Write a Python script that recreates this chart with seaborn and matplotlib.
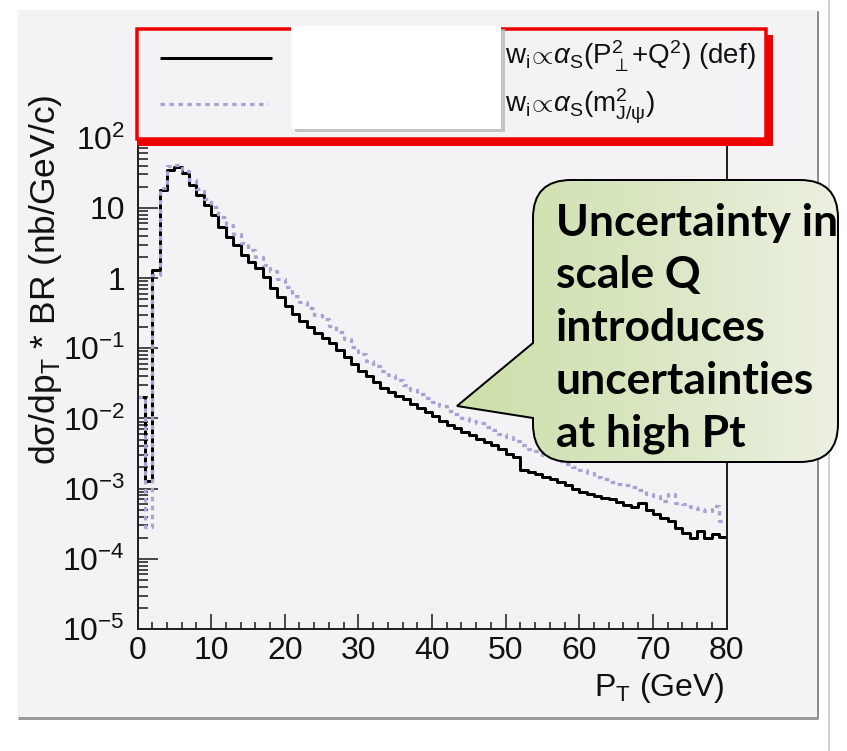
import numpy as np
import pandas as pd
import matplotlib
matplotlib.use("Agg")
import matplotlib.pyplot as plt
import seaborn as sns
from matplotlib.patches import Rectangle, PathPatch
from matplotlib.path import Path
from matplotlib.ticker import FixedLocator, LogLocator, MultipleLocator, NullFormatter
from matplotlib.colors import LinearSegmentedColormap

# ---------------- data ----------------
pt_edges = list(range(0, 81))          # 1 GeV bins, 0-80 GeV
pt_centers = [e + 0.5 for e in pt_edges[:-1]]

# dsigma/dpT * BR (nb/GeV/c), default scale w_i ~ alpha_s(P_perp^2 + Q^2)
sigma_def = [
    2.0e-2, 1.3e-3, 1.3, 18, 35, 38.5, 31, 21, 15.2, 11,
    7.9, 5.4, 3.9, 2.95, 2.13, 1.7, 1.37, 1.04, 0.72, 0.54,
    0.40, 0.31, 0.245, 0.20, 0.162, 0.138, 0.117, 0.0955, 0.0759, 0.0603,
    0.0479, 0.0398, 0.0331, 0.0275, 0.0240, 0.0209, 0.0186, 0.0162, 0.0141, 0.0123,
    0.0107, 9.33e-3, 8.13e-3, 7.24e-3, 6.31e-3, 5.75e-3, 5.13e-3, 4.68e-3, 4.17e-3, 3.63e-3,
    3.16e-3, 2.82e-3, 1.82e-3, 1.74e-3, 1.62e-3, 1.48e-3, 1.38e-3, 1.23e-3, 1.12e-3, 1.00e-3,
    8.9e-4, 8.3e-4, 7.8e-4, 7.4e-4, 7.2e-4, 6.5e-4, 5.9e-4, 5.5e-4, 6.2e-4, 5.0e-4,
    4.3e-4, 3.8e-4, 3.4e-4, 2.75e-4, 2.35e-4, 1.95e-4, 2.5e-4, 1.95e-4, 2.25e-4, 2.05e-4,
]

# alternative scale w_i ~ alpha_s(m_J/psi^2)
sigma_mjpsi = [
    2.0e-2, 2.8e-4, 1.1, 19, 39, 41, 33, 25, 18.6, 13.2,
    10.2, 7.4, 5.75, 4.17, 3.16, 2.51, 2.0, 1.55, 1.26, 0.98,
    0.74, 0.56, 0.457, 0.372, 0.302, 0.257, 0.209, 0.170, 0.135, 0.105,
    0.083, 0.066, 0.056, 0.048, 0.041, 0.0347, 0.0295, 0.0257, 0.0224, 0.0195,
    0.0170, 0.0148, 0.0129, 0.0115, 0.0102, 9.3e-3, 8.5e-3, 7.6e-3, 6.8e-3, 6.0e-3,
    5.5e-3, 4.8e-3, 4.2e-3, 3.7e-3, 3.4e-3, 3.0e-3, 2.7e-3, 2.45e-3, 2.24e-3, 2.04e-3,
    1.86e-3, 1.66e-3, 1.48e-3, 1.38e-3, 1.26e-3, 1.17e-3, 1.12e-3, 1.07e-3, 9.5e-4, 8.5e-4,
    7.9e-4, 6.6e-4, 8.3e-4, 6.3e-4, 6.0e-4, 5.5e-4, 5.1e-4, 4.8e-4, 5.6e-4, 3.5e-4,
]

y_ticks = [1e-5, 1e-4, 1e-3, 1e-2, 1e-1, 1, 10, 100]
y_ticklabels = [r"$\mathregular{10^{-5}}$", r"$\mathregular{10^{-4}}$", r"$\mathregular{10^{-3}}$",
                r"$\mathregular{10^{-2}}$", r"$\mathregular{10^{-1}}$", "1", "10",
                r"$\mathregular{10^{2}}$"]
x_ticks = [0, 10, 20, 30, 40, 50, 60, 70, 80]

legend_labels = [
    r"w$_{\mathregular{i}}\!\propto\!\alpha_{\mathregular{S}}$(P$^{\mathregular{2}}_{\perp}$+Q$^{\mathregular{2}}$) (def)",
    r"w$_{\mathregular{i}}\!\propto\!\alpha_{\mathregular{S}}$(m$^{\mathregular{2}}_{\mathregular{J/\psi}}$)",
]
callout_lines = ["Uncertainty in", "scale Q", "introduces", "uncertainties", "at high Pt"]

df_def = pd.DataFrame({"pt": pt_centers, "sigma": sigma_def})
df_mjpsi = pd.DataFrame({"pt": pt_centers, "sigma": sigma_mjpsi})

# ---------------- style ----------------
sns.set_theme(style="ticks")
plt.rcParams["font.family"] = ["Liberation Sans", "DejaVu Sans"]
plt.rcParams["mathtext.fontset"] = "custom"
plt.rcParams["mathtext.rm"] = "Liberation Sans"
plt.rcParams["mathtext.it"] = "Liberation Sans:italic"
plt.rcParams["mathtext.bf"] = "Liberation Sans:bold"
plt.rcParams["mathtext.sf"] = "Liberation Sans"

W, H = 847, 751
PAD = "#f4f2f4"
LAV = "#aaa3d2"
RED = "#ee0000"
INK = "#222222"
PX = 72 / 100  # points per pixel


def fx(x):
    return x / W


def fy(y):
    return 1 - y / H


fig = plt.figure(figsize=(W / 100, H / 100), dpi=100, facecolor="white")

# canvas pad behind everything
under = fig.add_axes([0, 0, 1, 1], zorder=-5)
under.set_xlim(0, W)
under.set_ylim(H, 0)
under.axis("off")
under.add_patch(Rectangle((18, 10), 800, 708, fc=PAD, ec="none"))
under.plot([18, 818], [718, 718], color="#9a9a9a", lw=3 * PX, solid_capstyle="butt")
under.plot([818, 818], [12, 718], color="#8c8c8c", lw=2 * PX)
under.plot([829, 829], [0, H], color="#c4c4c4", lw=1.5 * PX)

# ---------------- main histogram axes ----------------
ax = fig.add_axes([fx(137.5), fy(629), (726.5 - 137.5) / W, (629 - 137.6) / H])
ax.set_facecolor("none")

sns.histplot(data=df_def, x="pt", weights="sigma", bins=pt_edges, element="step", fill=False,
             color="black", linewidth=3.0 * PX, ax=ax)
sns.histplot(data=df_mjpsi, x="pt", weights="sigma", bins=pt_edges, element="step", fill=False,
             color=LAV, linewidth=3.2 * PX, linestyle=(0, (1.4, 1.4)), ax=ax)

ax.set_yscale("log")
ax.set_xlim(0, 80)
ax.set_ylim(1e-5, 1e2)
ax.set_xlabel("")
ax.set_ylabel("")

ax.yaxis.set_major_locator(FixedLocator(y_ticks))
ax.set_yticklabels(y_ticklabels)
ax.yaxis.set_minor_locator(LogLocator(base=10, subs=np.arange(2, 10), numticks=30))
ax.yaxis.set_minor_formatter(NullFormatter())
ax.xaxis.set_major_locator(FixedLocator(x_ticks))
ax.set_xticklabels([str(v) for v in x_ticks])
ax.xaxis.set_minor_locator(MultipleLocator(2))

ax.tick_params(axis="both", which="both", direction="in", color=INK, width=1.6 * PX,
               labelsize=23, labelcolor="#111111", top=False, right=False)
ax.tick_params(axis="y", which="major", length=20 * PX, pad=9)
ax.tick_params(axis="y", which="minor", length=10 * PX)
ax.tick_params(axis="x", which="major", length=15 * PX, pad=5)
ax.tick_params(axis="x", which="minor", length=7 * PX)
for side in ("left", "bottom", "right"):
    ax.spines[side].set_color(INK)
    ax.spines[side].set_linewidth(2 * PX)
ax.spines["top"].set_visible(False)

# axis titles
fig.text(fx(45), fy(95), "d\u03c3/dp$_{\\mathregular{T}}$ * BR (nb/GeV/c)", rotation=90,
         ha="center", va="top", fontsize=25.5, color="#111111")
fig.text(fx(725), fy(696), "P$_{\\mathregular{T}}$ (GeV)", ha="right", va="baseline",
         fontsize=23, color="#111111")

# ---------------- overlay: legend and callout ----------------
ov = fig.add_axes([0, 0, 1, 1], zorder=10)
ov.set_xlim(0, W)
ov.set_ylim(H, 0)
ov.axis("off")
ov.patch.set_alpha(0)

# legend frame with shadow
ov.add_patch(Rectangle((137, 35), 636, 111, fc=RED, ec="none"))
ov.add_patch(Rectangle((137, 29), 629, 110, fc=PAD, ec=RED, lw=3.5 * PX))
ov.plot([160, 272], [58, 58], color="black", lw=3 * PX, solid_capstyle="butt")
ov.plot([160, 268], [104, 104], color=LAV, lw=3.2 * PX, linestyle=(0, (1.4, 1.4)))
ov.text(505, 64, legend_labels[0], fontsize=20, va="baseline", ha="left", color="#111111")
ov.text(505, 113, legend_labels[1], fontsize=20, va="baseline", ha="left", color="#111111")
# blank label panel
ov.add_patch(Rectangle((295, 29), 210, 103, fc="#b9b9b9", ec="none", alpha=0.8))
ov.add_patch(Rectangle((291, 26), 210, 103, fc="white", ec="none"))

# speech-bubble callout
L, R, T, B, r = 533, 838, 180, 462, 38
tip = (457, 406)
y1, y2 = 343, 418
verts = [
    (L + r, T), (R - r, T), (R, T), (R, T + r), (R, B - r), (R, B), (R - r, B),
    (L + r, B), (L, B), (L, B - r), (L, y2), tip, (L, y1), (L, T + r), (L, T), (L + r, T),
    (L + r, T),
]
codes = [
    Path.MOVETO, Path.LINETO, Path.CURVE3, Path.CURVE3, Path.LINETO, Path.CURVE3, Path.CURVE3,
    Path.LINETO, Path.CURVE3, Path.CURVE3, Path.LINETO, Path.LINETO, Path.LINETO, Path.LINETO,
    Path.CURVE3, Path.CURVE3, Path.CLOSEPOLY,
]
bubble = Path(verts, codes)
grad_cmap = LinearSegmentedColormap.from_list("bubble", ["#cddfaa", "#d9e6c1", "#ecf1e2"])
grad = np.linspace(0, 1, 256).reshape(1, -1)
im = ov.imshow(grad, cmap=grad_cmap, extent=[450, 840, B + 5, T - 5], aspect="auto",
               zorder=11, interpolation="bilinear")
edge = PathPatch(bubble, fc="none", ec="black", lw=2 * PX, zorder=12)
ov.add_patch(edge)
im.set_clip_path(edge)
ov.set_xlim(0, W)
ov.set_ylim(H, 0)

# fit the callout text width to the bubble
probe = ov.text(556, 235, callout_lines[0], fontsize=30, family=["Lato", "DejaVu Sans"],
                fontweight="bold")
fig.canvas.draw()
w_probe = probe.get_window_extent(fig.canvas.get_renderer()).width
probe.remove()
fs = 30 * 282 / w_probe
for i, line in enumerate(callout_lines):
    ov.text(556, 236 + 52.5 * i, line, fontsize=fs, family=["Lato", "DejaVu Sans"],
            fontweight="bold", color="black", va="baseline", ha="left", zorder=13)

fig.savefig("out.png", dpi=100, facecolor="white")
